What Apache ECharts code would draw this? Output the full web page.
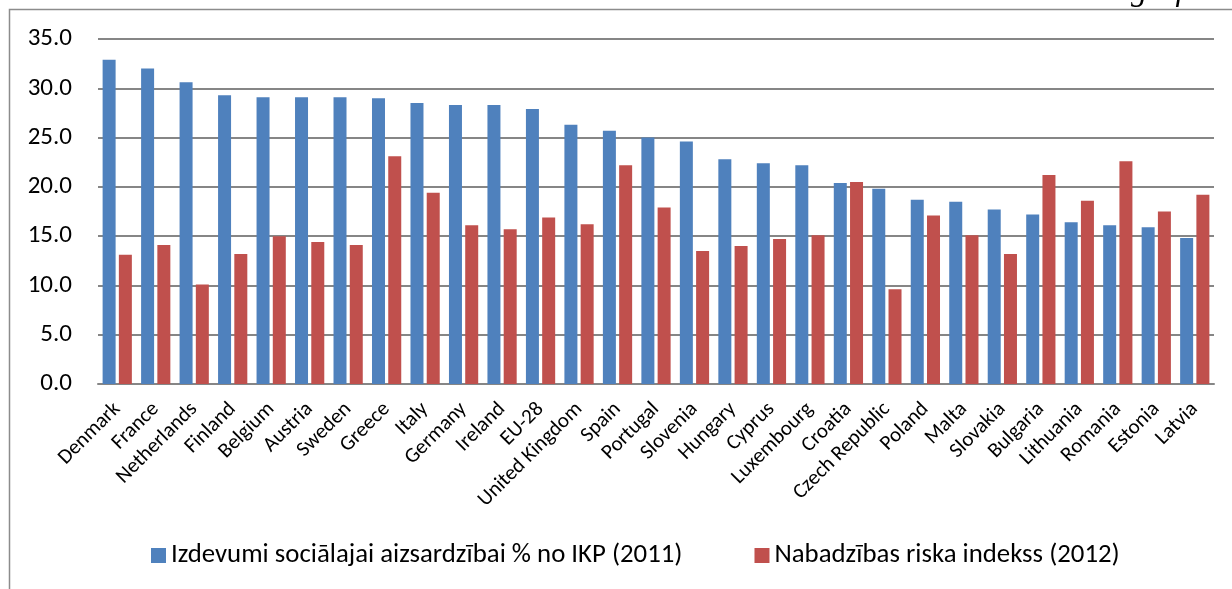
<!DOCTYPE html>
<html>
<head>
<meta charset="utf-8">
<script src="https://cdn.jsdelivr.net/npm/echarts@6/dist/echarts.min.js"></script>
<style>
  html, body { margin: 0; padding: 0; background: #fff; }
  #main { width: 1232px; height: 589px; }
</style>
</head>
<body>
<div id="main"></div>
<script>
// valstis
var countries = ["Denmark", "France", "Netherlands", "Finland", "Belgium", "Austria", "Sweden", "Greece",
  "Italy", "Germany", "Ireland", "EU-28", "United Kingdom", "Spain", "Portugal", "Slovenia", "Hungary",
  "Cyprus", "Luxembourg", "Croatia", "Czech Republic", "Poland", "Malta", "Slovakia", "Bulgaria",
  "Lithuania", "Romania", "Estonia", "Latvia"];

// Izdevumi sociālajai aizsardzībai % no IKP (2011)
var spending = [32.9, 32.0, 30.6, 29.3, 29.1, 29.1, 29.1, 29.0, 28.5, 28.3, 28.3, 27.9, 26.3, 25.7, 25.0,
  24.6, 22.8, 22.4, 22.2, 20.4, 19.8, 18.7, 18.5, 17.7, 17.2, 16.4, 16.1, 15.9, 14.8];

// Nabadzības riska indekss (2012)
var poverty = [13.1, 14.1, 10.1, 13.2, 15.0, 14.4, 14.1, 23.1, 19.4, 16.1, 15.7, 16.9, 16.2, 22.2, 17.9,
  13.5, 14.0, 14.7, 15.1, 20.5, 9.6, 17.1, 15.1, 13.2, 21.2, 18.6, 22.6, 17.5, 19.2];

var seriesNames = ["Izdevumi sociālajai aizsardzībai % no IKP (2011)", "Nabadzības riska indekss (2012)"];

var font = "Calibri, 'Open Sans', sans-serif";

var myChart = echarts.init(document.getElementById("main"));
var option = {
  animation: false,
  textStyle: { fontFamily: font, color: "#000" },
  graphic: [
    {
      type: "rect",
      shape: { x: 9.5, y: 9.5, width: 1300, height: 700 },
      style: { fill: "none", stroke: "#8c8c8c", lineWidth: 1.5 }
    },
    {
      type: "text",
      x: 1220,
      y: 8,
      style: {
        text: "grafiks", font: "italic 32px 'Liberation Serif', serif", fill: "#000",
        align: "right", verticalAlign: "bottom"
      }
    }
  ],
  grid: { left: 98, right: 18, top: 39, bottom: 205, containLabel: false },
  legend: {
    bottom: 15,
    left: 146,
    itemWidth: 15,
    itemHeight: 15,
    itemGap: 72,
    icon: "rect",
    textStyle: { fontSize: 26.8, fontFamily: font, color: "#000" },
    data: seriesNames
  },
  xAxis: {
    type: "category",
    data: countries,
    axisTick: { show: false },
    axisLine: { lineStyle: { color: "#868686", width: 2 } },
    axisLabel: { rotate: 45, interval: 0, fontSize: 21, color: "#000", margin: 22, fontFamily: font }
  },
  yAxis: {
    type: "value",
    min: 0,
    max: 35,
    interval: 5,
    axisLine: { show: false },
    axisTick: { show: false },
    splitLine: { lineStyle: { color: "#868686", width: 2 } },
    axisLabel: {
      fontSize: 25, color: "#000", margin: 26, fontFamily: font,
      formatter: function (v) { return v.toFixed(1); }
    }
  },
  series: [
    {
      name: seriesNames[0],
      type: "bar",
      data: spending,
      barWidth: 13,
      barGap: "25%",
      itemStyle: { color: "#4F81BD" }
    },
    {
      name: seriesNames[1],
      type: "bar",
      data: poverty,
      barWidth: 13,
      itemStyle: { color: "#C0504D" }
    }
  ]
};
myChart.setOption(option);
</script>
</body>
</html>
